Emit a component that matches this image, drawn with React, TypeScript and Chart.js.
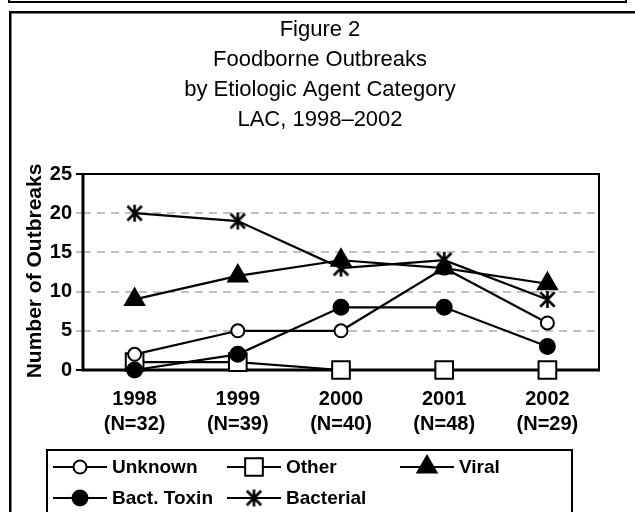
import React, { useEffect, useRef } from 'react';
import { Chart, registerables } from 'chart.js';
import { drawPoint } from 'chart.js/helpers';

Chart.register(...registerables);

const FONT = '"Liberation Sans", Arial, Helvetica, sans-serif';

const years = ['1998', '1999', '2000', '2001', '2002'];
const counts = ['(N=32)', '(N=39)', '(N=40)', '(N=48)', '(N=29)'];

const unknown = [2, 5, 5, 13, 6];
const other = [1, 1, 0, 0, 0];
const viral = [9, 12, 14, 13, 11];
const bactToxin = [0, 2, 8, 8, 3];
const bacterial = [20, 19, 13, 14, 9];

const titleLines = ['Figure 2', 'Foodborne Outbreaks', 'by Etiologic Agent Category', 'LAC, 1998\u20132002'];
const yTitle = 'Number of Outbreaks';
const yMin = 0;
const yMax = 25;
const yStep = 5;

function makeStar(size: number, lw: number): HTMLCanvasElement {
  const c = document.createElement('canvas');
  c.width = size;
  c.height = size;
  const g = c.getContext('2d')!;
  g.strokeStyle = '#000';
  g.lineWidth = lw;
  const m = size / 2;
  const r = size / 2 - 1;
  const d = r * 0.85;
  g.beginPath();
  g.moveTo(m, m - r);
  g.lineTo(m, m + r);
  g.moveTo(m - d, m - d);
  g.lineTo(m + d, m + d);
  g.moveTo(m + d, m - d);
  g.lineTo(m - d, m + d);
  g.stroke();
  return c;
}

export default function App() {
  const ref = useRef<HTMLCanvasElement>(null);

  useEffect(() => {
    const star = makeStar(19, 2.6);

    const styles: Record<string, any> = {
      Unknown: { pointStyle: 'circle', radius: 6.5, fill: '#fff' },
      Other: { pointStyle: 'rect', radius: 12.5, fill: '#fff' },
      Viral: { pointStyle: 'triangle', radius: 11, fill: '#000' },
      'Bact. Toxin': { pointStyle: 'circle', radius: 7.5, fill: '#000' },
      Bacterial: { pointStyle: star, radius: 9, fill: '#000' },
    };

    const legendOrder = ['Unknown', 'Other', 'Viral', 'Bact. Toxin', 'Bacterial'];
    const legendCols = [53, 227, 400];
    const legendRows = [467, 498];

    const mk = (label: string, data: number[]) => ({
      label,
      data,
      borderColor: '#000',
      borderWidth: 2.2,
      backgroundColor: styles[label].fill,
      pointBackgroundColor: styles[label].fill,
      pointBorderColor: '#000',
      pointBorderWidth: 2,
      pointStyle: styles[label].pointStyle,
      pointRadius: styles[label].radius,
      tension: 0,
      fill: false,
      clip: false as any,
    });

    const framePlugin = {
      id: 'frame',
      beforeDraw(chart: any) {
        const ctx = chart.ctx as CanvasRenderingContext2D;
        ctx.save();
        ctx.fillStyle = '#fff';
        ctx.fillRect(0, 0, chart.width, chart.height);
        ctx.strokeStyle = '#000';
        ctx.lineWidth = 2;
        ctx.strokeRect(9, -10, 617, 12);
        ctx.lineWidth = 2.5;
        ctx.strokeRect(10.25, 12.25, 700, 600);
        ctx.lineWidth = 2;
        ctx.strokeRect(47, 450, 525, 100);

        ctx.fillStyle = '#000';
        ctx.font = '22px ' + FONT;
        ctx.textAlign = 'center';
        ctx.textBaseline = 'middle';
        titleLines.forEach((t, i) => ctx.fillText(t, 320, 30 + i * 30));

        ctx.translate(35, 271);
        ctx.rotate(-Math.PI / 2);
        ctx.font = 'bold 21px ' + FONT;
        ctx.fillText(yTitle, 0, 0);
        ctx.restore();
      },
      beforeDatasetsDraw(chart: any) {
        const ctx = chart.ctx as CanvasRenderingContext2D;
        const a = chart.chartArea;
        ctx.save();
        ctx.strokeStyle = '#000';
        ctx.lineWidth = 2;
        ctx.beginPath();
        ctx.moveTo(a.left, a.top);
        ctx.lineTo(a.right, a.top);
        ctx.lineTo(a.right, a.bottom);
        ctx.stroke();
        ctx.lineWidth = 3;
        ctx.beginPath();
        ctx.moveTo(a.left, a.top - 1);
        ctx.lineTo(a.left, a.bottom);
        ctx.lineTo(a.right + 1, a.bottom);
        ctx.stroke();
        ctx.restore();
      },
      afterDraw(chart: any) {
        const ctx = chart.ctx as CanvasRenderingContext2D;
        ctx.save();
        ctx.font = 'bold 19px ' + FONT;
        ctx.textAlign = 'left';
        ctx.textBaseline = 'middle';
        legendOrder.forEach((label, i) => {
          const col = i < 3 ? i : i - 3;
          const row = i < 3 ? 0 : 1;
          const x = legendCols[col];
          const y = legendRows[row];
          ctx.strokeStyle = '#000';
          ctx.lineWidth = 2;
          ctx.beginPath();
          ctx.moveTo(x, y);
          ctx.lineTo(x + 54, y);
          ctx.stroke();
          const s = styles[label];
          ctx.fillStyle = s.fill;
          ctx.strokeStyle = '#000';
          ctx.lineWidth = 2;
          drawPoint(ctx, { pointStyle: s.pointStyle, radius: s.radius, rotation: 0, borderWidth: 2 } as any, x + 27, y);
          ctx.fillStyle = '#000';
          ctx.fillText(label, x + 59, y + 1);
        });
        ctx.restore();
      },
    };

    const chart = new Chart(ref.current!, {
      type: 'line',
      data: {
        labels: years,
        datasets: [
          mk('Bacterial', bacterial),
          mk('Viral', viral),
          mk('Bact. Toxin', bactToxin),
          mk('Unknown', unknown),
          mk('Other', other),
        ],
      },
      options: {
        responsive: false,
        animation: false,
        events: [],
        devicePixelRatio: 1,
        layout: { padding: { left: 0, right: 36, top: 174, bottom: 0 } },
        plugins: {
          legend: { display: false },
          title: { display: false },
          tooltip: { enabled: false },
        },
        scales: {
          x: {
            type: 'category',
            offset: true,
            grid: { display: false, drawTicks: false },
            border: { display: false },
            ticks: {
              color: '#000',
              font: { family: FONT, size: 20, weight: 'bold', lineHeight: 25 / 20 },
              padding: 17,
              maxRotation: 0,
              autoSkip: false,
              callback: (_v: any, i: number) => [years[i], counts[i]],
            },
            afterFit: (s: any) => {
              s.height = 142;
            },
          },
          y: {
            min: yMin,
            max: yMax,
            ticks: {
              stepSize: yStep,
              color: '#000',
              font: { family: FONT, size: 20, weight: 'bold' },
              padding: 4,
            },
            grid: {
              color: (c: any) => (c.tick && (c.tick.value === yMin || c.tick.value === yMax) ? 'rgba(0,0,0,0)' : '#c0c0c0'),
              lineWidth: 2,
              drawTicks: true,
              tickLength: 7,
              tickWidth: 2,
              tickBorderDash: [],
              tickColor: (c: any) => (c.tick && (c.tick.value === yMin || c.tick.value === yMax) ? '#000' : '#c0c0c0'),
            },
            border: { display: false, dash: [8, 6] },
            afterFit: (s: any) => {
              s.width = 83;
            },
          },
        },
      },
      plugins: [framePlugin],
    });
    return () => chart.destroy();
  }, []);

  return (
    <div style={{ position: 'absolute', left: 0, top: 0, width: 635, height: 512, background: '#fff' }}>
      <canvas ref={ref} width={635} height={512} style={{ display: 'block' }} />
    </div>
  );
}
